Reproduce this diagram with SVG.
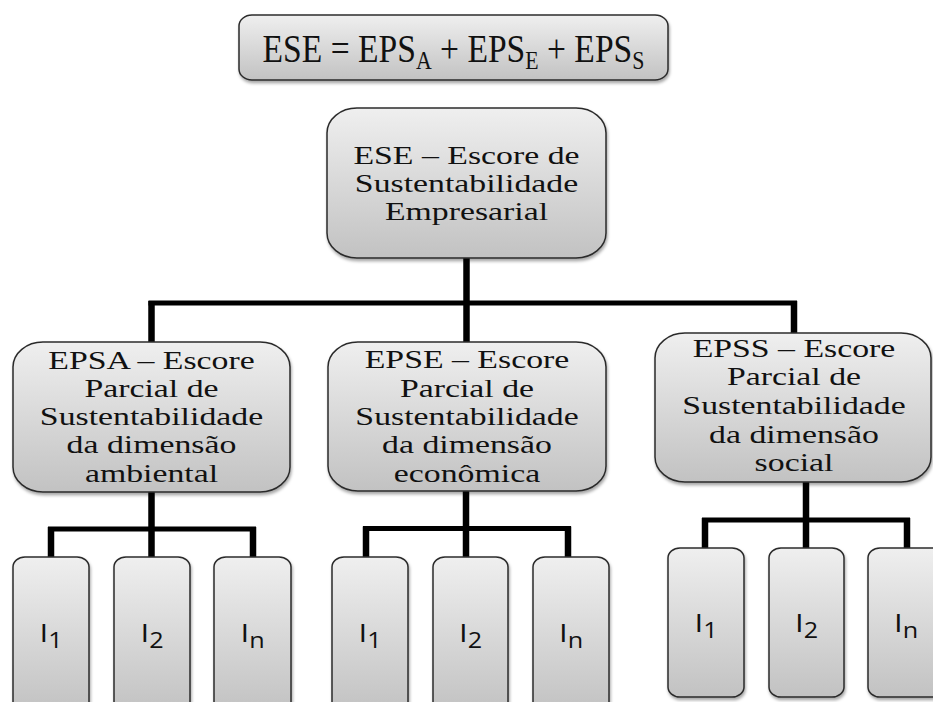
<svg xmlns="http://www.w3.org/2000/svg" width="933" height="702" viewBox="0 0 933 702">
<defs>
<linearGradient id="g" x1="0" y1="0" x2="0" y2="1">
<stop offset="0" stop-color="#efefef"/>
<stop offset="1" stop-color="#c2c2c2"/>
</linearGradient>
<filter id="sh" x="-10%" y="-10%" width="120%" height="130%">
<feDropShadow dx="1" dy="2.5" stdDeviation="1.5" flood-color="#000" flood-opacity="0.35"/>
</filter>
<style>
.box{fill:url(#g);stroke:#2b2b2b;stroke-width:1.5;filter:url(#sh)}
.t{font-family:"Liberation Serif","Times New Roman",serif;font-size:26px;fill:#111;text-anchor:middle}
.f{font-family:"Liberation Serif","Times New Roman",serif;font-size:40px;fill:#111;text-anchor:middle}
.i{font-family:"Open Sans","DejaVu Sans",sans-serif;font-size:26px;fill:#111;text-anchor:middle}
.h{stroke:#000;stroke-width:5;fill:none}
.v{stroke:#000;stroke-width:6.5;fill:none}
</style>
</defs>
<rect width="933" height="702" fill="#fff"/>

<g id="connectors">
<line class="v" x1="466.5" y1="258" x2="466.5" y2="342"/>
<line class="h" x1="148.5" y1="303" x2="797" y2="303"/>
<line class="v" x1="151.5" y1="301" x2="151.5" y2="342"/>
<line class="v" x1="794" y1="301" x2="794" y2="333"/>

<line class="v" x1="151.5" y1="492" x2="151.5" y2="557"/>
<line class="h" x1="48" y1="529" x2="256" y2="529"/>
<line class="v" x1="51" y1="527" x2="51" y2="557"/>
<line class="v" x1="253" y1="527" x2="253" y2="557"/>

<line class="v" x1="466" y1="491" x2="466" y2="557"/>
<line class="h" x1="363" y1="528.5" x2="571" y2="528.5"/>
<line class="v" x1="366" y1="526.5" x2="366" y2="557"/>
<line class="v" x1="568" y1="526.5" x2="568" y2="557"/>

<line class="v" x1="806" y1="482" x2="806" y2="548"/>
<line class="h" x1="702" y1="520" x2="910" y2="520"/>
<line class="v" x1="705" y1="518" x2="705" y2="548"/>
<line class="v" x1="907" y1="518" x2="907" y2="548"/>
</g>

<g id="formula">
<rect class="box" x="239" y="15" width="429" height="65" rx="13" ry="11"/>
<text class="f" transform="translate(453.5,62) scale(0.84,1)">ESE = EPS<tspan font-size="26" dy="7">A</tspan><tspan dy="-7"> + EPS</tspan><tspan font-size="26" dy="7">E</tspan><tspan dy="-7"> + EPS</tspan><tspan font-size="26" dy="7">S</tspan></text>
</g>

<g id="ese">
<rect class="box" x="327" y="108" width="279" height="150" rx="30" ry="25"/>
<text class="t" transform="translate(466.5,164) scale(1.3,1)">ESE – Escore de</text>
<text class="t" transform="translate(466.5,192) scale(1.3,1)">Sustentabilidade</text>
<text class="t" transform="translate(466.5,220) scale(1.3,1)">Empresarial</text>
</g>

<g id="epsa">
<rect class="box" x="13" y="342" width="277" height="150" rx="30" ry="25"/>
<text class="t" transform="translate(151.5,369) scale(1.3,1)">EPSA – Escore</text>
<text class="t" transform="translate(151.5,397) scale(1.3,1)">Parcial de</text>
<text class="t" transform="translate(151.5,425) scale(1.3,1)">Sustentabilidade</text>
<text class="t" transform="translate(151.5,453) scale(1.3,1)">da dimensão</text>
<text class="t" transform="translate(151.5,482) scale(1.3,1)">ambiental</text>
</g>

<g id="epse">
<rect class="box" x="328" y="342" width="278" height="149" rx="30" ry="25"/>
<text class="t" transform="translate(467,368) scale(1.3,1)">EPSE – Escore</text>
<text class="t" transform="translate(467,397) scale(1.3,1)">Parcial de</text>
<text class="t" transform="translate(467,425) scale(1.3,1)">Sustentabilidade</text>
<text class="t" transform="translate(467,453) scale(1.3,1)">da dimensão</text>
<text class="t" transform="translate(467,482) scale(1.3,1)">econômica</text>
</g>

<g id="epss">
<rect class="box" x="655" y="333" width="276" height="149" rx="30" ry="25"/>
<text class="t" transform="translate(794,357) scale(1.3,1)">EPSS – Escore</text>
<text class="t" transform="translate(794,385) scale(1.3,1)">Parcial de</text>
<text class="t" transform="translate(794,414) scale(1.3,1)">Sustentabilidade</text>
<text class="t" transform="translate(794,443) scale(1.3,1)">da dimensão</text>
<text class="t" transform="translate(794,471) scale(1.3,1)">social</text>
</g>

<g id="a-i1"><rect class="box" x="13" y="557" width="76" height="155" rx="12" ry="10"/><text class="i" transform="translate(51,642) scale(1.2,1)">I<tspan font-size="21" dy="6">1</tspan></text></g>
<g id="a-i2"><rect class="box" x="114" y="557" width="76" height="155" rx="12" ry="10"/><text class="i" transform="translate(152,642) scale(1.2,1)">I<tspan font-size="21" dy="6">2</tspan></text></g>
<g id="a-in"><rect class="box" x="214" y="557" width="77" height="155" rx="12" ry="10"/><text class="i" transform="translate(252.5,642) scale(1.2,1)">I<tspan font-size="21" dy="6">n</tspan></text></g>

<g id="e-i1"><rect class="box" x="332" y="557" width="76" height="155" rx="12" ry="10"/><text class="i" transform="translate(370,642) scale(1.2,1)">I<tspan font-size="21" dy="6">1</tspan></text></g>
<g id="e-i2"><rect class="box" x="433" y="557" width="75" height="155" rx="12" ry="10"/><text class="i" transform="translate(470.5,642) scale(1.2,1)">I<tspan font-size="21" dy="6">2</tspan></text></g>
<g id="e-in"><rect class="box" x="533" y="557" width="76" height="155" rx="12" ry="10"/><text class="i" transform="translate(571,642) scale(1.2,1)">I<tspan font-size="21" dy="6">n</tspan></text></g>

<g id="s-i1"><rect class="box" x="668" y="548" width="76" height="149" rx="12" ry="10"/><text class="i" transform="translate(706,632) scale(1.2,1)">I<tspan font-size="21" dy="6">1</tspan></text></g>
<g id="s-i2"><rect class="box" x="769" y="548" width="75" height="149" rx="12" ry="10"/><text class="i" transform="translate(806.5,632) scale(1.2,1)">I<tspan font-size="21" dy="6">2</tspan></text></g>
<g id="s-in"><rect class="box" x="868" y="548" width="80" height="149" rx="12" ry="10"/><text class="i" transform="translate(906,632) scale(1.2,1)">I<tspan font-size="21" dy="6">n</tspan></text></g>
</svg>
